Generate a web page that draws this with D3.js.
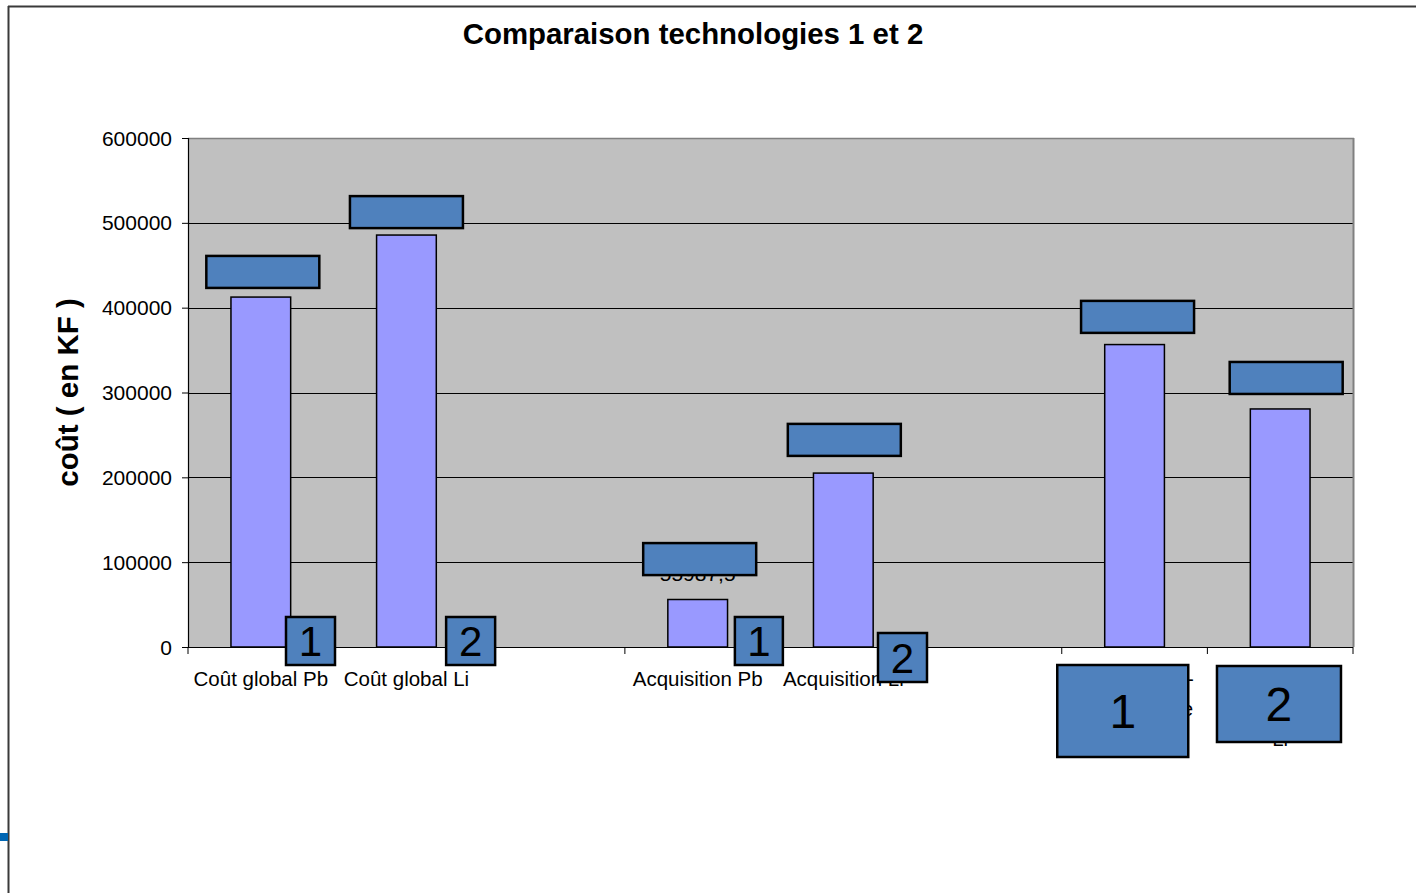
<!DOCTYPE html>
<html>
<head>
<meta charset="utf-8">
<script src="https://cdn.jsdelivr.net/npm/d3@7/dist/d3.min.js"></script>
<style>
  html, body { margin: 0; padding: 0; background: #fff; }
  svg { display: block; font-family: "Liberation Sans", Arial, sans-serif; }
</style>
</head>
<body>
<svg id="chart" width="1416" height="893"></svg>
<script>
// Categories (blank entries leave a gap between groups)
const categories = [
  ["Coût global Pb"],
  ["Coût global Li"],
  [""],
  ["Acquisition Pb"],
  ["Acquisition Li"],
  [""],
  ["Exploitation -", "maintenance", "Pb"],
  ["Exploitation -", "maintenance", "Li"]
];
// Cost in KF for each category (null = no bar)
const costs = [412487.5, 485600, null, 55987.5, 205000, null, 356500, 280600];
const yTicks = [0, 100000, 200000, 300000, 400000, 500000, 600000];

// Blue cover boxes placed over the value labels (top edge, in KF)
const coverTops = [461000, 531500, null, 122500, 263000, null, 408000, 336000];

// Technology tags: category index, text
const tagCats = [0, 1, 3, 4, 6, 7];
const tagTexts = ["1", "2", "1", "2", "1", "2"];

const svg = d3.select("#chart");
const W = 1416, H = 893;
const plot = { left: 188, right: 1353, top: 138, bottom: 647 };

const x = d3.scaleBand()
  .domain(d3.range(categories.length))
  .range([plot.left, plot.right])
  .paddingInner(0).paddingOuter(0);
const y = d3.scaleLinear().domain([0, 600000]).range([plot.bottom, plot.top]);

const barW = x.bandwidth() * 0.41;
const frameColor = "#3a3a3a";

// outer chart frame (left and top edges)
svg.append("line").attr("x1", 8.5).attr("x2", 8.5).attr("y1", 6).attr("y2", H)
  .attr("stroke", frameColor).attr("stroke-width", 2);
svg.append("line").attr("x1", 8).attr("x2", W).attr("y1", 6.5).attr("y2", 6.5)
  .attr("stroke", frameColor).attr("stroke-width", 2);
svg.append("rect").attr("x", 0).attr("y", 833).attr("width", 8).attr("height", 8)
  .attr("fill", "#0066b3");

// plot background
svg.append("rect")
  .attr("x", plot.left).attr("y", plot.top)
  .attr("width", plot.right - plot.left).attr("height", plot.bottom - plot.top)
  .attr("fill", "#c0c0c0");

// gridlines
svg.append("g").selectAll("line").data(yTicks.filter(d => d > 0 && d < 600000)).join("line")
  .attr("x1", plot.left).attr("x2", plot.right)
  .attr("y1", d => Math.round(y(d)) + 0.5).attr("y2", d => Math.round(y(d)) + 0.5)
  .attr("stroke", "#000").attr("stroke-width", 1);

// plot border (top and right)
svg.append("line").attr("x1", plot.left).attr("x2", plot.right + 1)
  .attr("y1", plot.top + 0.5).attr("y2", plot.top + 0.5)
  .attr("stroke", "#808080").attr("stroke-width", 1.5);
svg.append("line").attr("x1", plot.right + 0.5).attr("x2", plot.right + 0.5)
  .attr("y1", plot.top).attr("y2", plot.bottom)
  .attr("stroke", "#808080").attr("stroke-width", 2);

// bars
svg.append("g").selectAll("rect").data(costs.map((v, i) => ({ v, i })).filter(d => d.v != null)).join("rect")
  .attr("x", d => x(d.i) + (x.bandwidth() - barW) / 2)
  .attr("y", d => y(d.v))
  .attr("width", barW)
  .attr("height", d => y(0) - y(d.v))
  .attr("fill", "#9999ff")
  .attr("stroke", "#000").attr("stroke-width", 1.5);

// value labels
const fmt = v => String(v).replace(".", ",");
svg.append("g").selectAll("text").data(costs.map((v, i) => ({ v, i })).filter(d => d.v != null)).join("text")
  .attr("x", d => x(d.i) + x.bandwidth() / 2)
  .attr("y", d => y(d.v) - 19)
  .attr("text-anchor", "middle")
  .attr("font-size", 21)
  .attr("fill", "#000")
  .text(d => fmt(d.v));

// cover boxes over the value labels
const coverW = 113, coverH = 32;
const coverShift = [2, 0, 0, 2, 1, 0, 3, 6];
svg.append("g").selectAll("rect").data(coverTops.map((v, i) => ({ v, i })).filter(d => d.v != null)).join("rect")
  .attr("x", d => x(d.i) + x.bandwidth() / 2 - coverW / 2 + coverShift[d.i])
  .attr("y", d => y(d.v))
  .attr("width", coverW).attr("height", coverH)
  .attr("fill", "#4f81bd")
  .attr("stroke", "#000").attr("stroke-width", 2.5);

// y axis
const yAxis = svg.append("g")
  .attr("transform", `translate(${plot.left},0)`)
  .call(d3.axisLeft(y).tickValues(yTicks).tickFormat(d3.format("d")).tickSize(6).tickPadding(10));
yAxis.select(".domain").attr("stroke", "#000").attr("stroke-width", 1.2);
yAxis.selectAll(".tick line").attr("stroke", "#000");
yAxis.selectAll(".tick text")
  .attr("font-size", 21).attr("fill", "#000")
  .attr("font-family", "Liberation Sans, Arial, sans-serif")
  .attr("dy", "0.34em");

// x axis with band boundary ticks
const xAxis = svg.append("g").attr("transform", `translate(0,${plot.bottom})`);
xAxis.append("line").attr("x1", plot.left).attr("x2", plot.right)
  .attr("y1", 0.5).attr("y2", 0.5).attr("stroke", "#000").attr("stroke-width", 1.2);
const boundaries = d3.range(categories.length + 1).map(i => i < categories.length ? x(i) : plot.right);
xAxis.selectAll("line.tk").data(boundaries).join("line").attr("class", "tk")
  .attr("x1", d => d).attr("x2", d => d).attr("y1", 0).attr("y2", 7)
  .attr("stroke", "#000");

// category labels (wrapped lines)
const labelG = svg.append("g");
categories.forEach((lines, i) => {
  const t = labelG.append("text")
    .attr("text-anchor", "middle")
    .attr("font-size", 20.5)
    .attr("fill", "#000");
  lines.forEach((ln, k) => {
    t.append("tspan")
      .attr("x", x(i) + x.bandwidth() / 2)
      .attr("y", plot.bottom + 39 + k * 30)
      .text(ln);
  });
});

// technology tags
const tagBoxes = [
  { dx: 98, w: 49, top: -30, h: 48, fs: 42 },
  { dx: 112.5, w: 49, top: -30, h: 48, fs: 42 },
  { dx: 110, w: 48, top: -30, h: 48, fs: 42 },
  { dx: 107.5, w: 49, top: -14, h: 49, fs: 42 },
  { dx: -4.5, w: 131, top: 18, h: 92, fs: 48 },
  { dx: 9.6, w: 124, top: 19, h: 76, fs: 48 }
];
const tagG = svg.append("g");
tagCats.forEach((ci, k) => {
  const b = tagBoxes[k];
  const bx = x(ci) + b.dx, by = plot.bottom + b.top;
  tagG.append("rect").attr("x", bx).attr("y", by).attr("width", b.w).attr("height", b.h)
    .attr("fill", "#4f81bd").attr("stroke", "#000").attr("stroke-width", 2.5);
  tagG.append("text").attr("x", bx + b.w / 2).attr("y", by + b.h / 2 + b.fs * 0.36)
    .attr("text-anchor", "middle").attr("font-size", b.fs).attr("fill", "#000")
    .text(tagTexts[k]);
});

// titles
svg.append("text").attr("x", 693).attr("y", 44)
  .attr("text-anchor", "middle").attr("font-size", 29.4).attr("font-weight", "bold")
  .attr("fill", "#000").text("Comparaison technologies 1 et 2");
svg.append("text")
  .attr("transform", `translate(78,${(plot.top + plot.bottom) / 2}) rotate(-90)`)
  .attr("text-anchor", "middle").attr("font-size", 29.5).attr("font-weight", "bold")
  .attr("fill", "#000").text("coût ( en KF )");
</script>
</body>
</html>
